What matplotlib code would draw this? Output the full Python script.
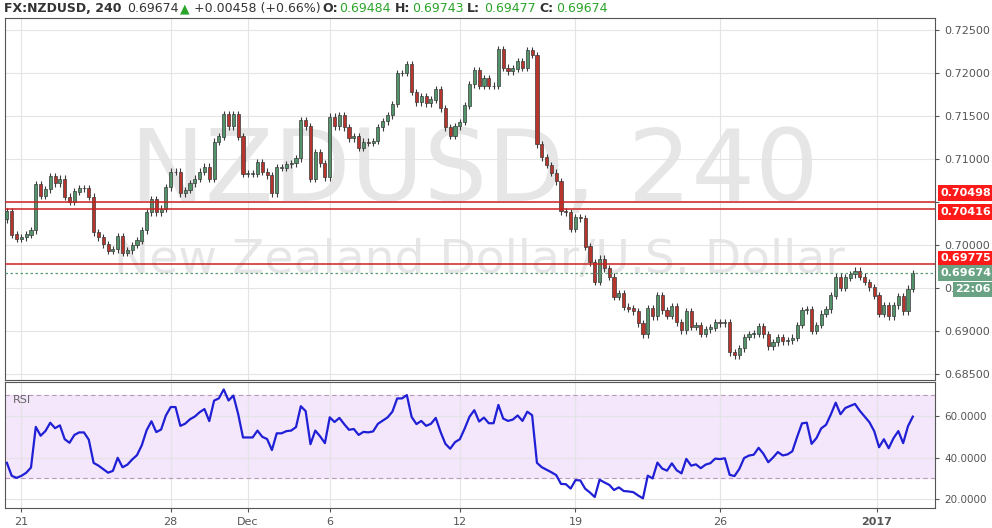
import numpy as np
import pandas as pd
import matplotlib
matplotlib.use("Agg")
import matplotlib.pyplot as plt

# 4H closes (first candle opens at 0.7030)
first_open = 0.7030
closes = [
    0.7039, 0.7012, 0.7007, 0.7009, 0.7012, 0.7017, 0.7071, 0.7057, 0.7065, 0.7080,
    0.7072, 0.7077, 0.7056, 0.7050, 0.7062, 0.7066, 0.7066, 0.7056, 0.7015, 0.7009,
    0.7001, 0.6993, 0.6995, 0.7010, 0.6991, 0.6994, 0.7000, 0.7005, 0.7017, 0.7038,
    0.7053, 0.7038, 0.7042, 0.7067, 0.7085, 0.7085, 0.7060, 0.7064, 0.7072, 0.7077,
    0.7085, 0.7091, 0.7077, 0.7120, 0.7126, 0.7152, 0.7138, 0.7152, 0.7126, 0.7083,
    0.7083, 0.7083, 0.7096, 0.7085, 0.7081, 0.7060, 0.7090, 0.7090, 0.7094, 0.7095,
    0.7101, 0.7145, 0.7138, 0.7077, 0.7108, 0.7095, 0.7079,
    0.7149, 0.7138, 0.7151, 0.7137, 0.7124, 0.7126, 0.7113, 0.7120, 0.7119, 0.7121,
    0.7137, 0.7144, 0.7151, 0.7164, 0.7200, 0.7200, 0.7210, 0.7178, 0.7166, 0.7173,
    0.7165, 0.7169, 0.7181, 0.7159, 0.7137, 0.7127, 0.7138, 0.7143, 0.7162, 0.7187,
    0.7203, 0.7185, 0.7194, 0.7185, 0.7185, 0.7228, 0.7206, 0.7202, 0.7205, 0.7214,
    0.7206, 0.7226, 0.7221, 0.7117, 0.7102, 0.7093, 0.7084, 0.7074, 0.7039,
    0.7038, 0.7019, 0.7032, 0.7031, 0.6998, 0.6980, 0.6957, 0.6984, 0.6973, 0.6963,
    0.6940, 0.6944, 0.6928, 0.6926, 0.6923, 0.6909, 0.6896, 0.6926, 0.6917, 0.6941,
    0.6924, 0.6918, 0.6929, 0.6910, 0.6901, 0.6923, 0.6905, 0.6907, 0.6897, 0.6902,
    0.6904, 0.6910, 0.6909, 0.6910, 0.6875, 0.6872, 0.6880, 0.6893, 0.6896, 0.6897,
    0.6905, 0.6896, 0.6882, 0.6887, 0.6893, 0.6888, 0.6889, 0.6892, 0.6907, 0.6924,
    0.6925, 0.6900, 0.6907, 0.6920, 0.6925, 0.6941, 0.6963, 0.6950, 0.6962, 0.6966,
    0.6970, 0.6963, 0.6957, 0.6951, 0.6941, 0.6920, 0.6930, 0.6917, 0.6930, 0.6940,
    0.6923, 0.6949, 0.6967,
]
wick = 0.0004

# RSI state carried in from before the visible window
seed_avg_gain = 0.00035
seed_avg_loss = 0.00070

date_pos = [3, 34, 50, 67, 94, 118, 148, 180.5]
date_labels = ["21", "28", "Dec", "6", "12", "19", "26", "2017"]

levels = [0.70498, 0.70416, 0.69775]
level_label_offsets = [0.0011, -0.0003, 0.0007]
last_price = 0.69674

closes = np.array(closes)
opens = np.concatenate([[first_open], closes[:-1]])
highs = np.maximum(opens, closes) + wick
lows = np.minimum(opens, closes) - wick
x = np.arange(len(closes))

# RSI 14 (Wilder smoothing)
g, l = seed_avg_gain, seed_avg_loss
rsi = []
for d in closes - opens:
    g = (g * 13 + max(d, 0)) / 14
    l = (l * 13 + max(-d, 0)) / 14
    rsi.append(100 - 100 / (1 + g / l))
rsi = np.array(rsi)

green = "#53936a"
red = "#b8352d"
edge = "#3a3a3a"

fig = plt.figure(figsize=(9.92, 5.28), dpi=100)
ax = fig.add_axes([0.005, 0.2803, 0.9375, 0.6856])
ax2 = fig.add_axes([0.005, 0.0379, 0.9375, 0.2386])

# watermark
ax.text(0.505, 0.57, "NZDUSD, 240", transform=ax.transAxes, ha="center", va="center",
        fontsize=72, color="#e6e6e6", zorder=0)
ax.text(0.51, 0.33, "New Zealand Dollar/U.S. Dollar", transform=ax.transAxes,
        ha="center", va="center", fontsize=34, color="#e6e6e6", zorder=0)

up = closes >= opens
cols = np.where(up, green, red)
ax.vlines(x, lows, highs, color=edge, lw=0.8, zorder=2)
ax.bar(x, np.abs(closes - opens) + 0.00003, bottom=np.minimum(opens, closes),
       width=0.65, color=cols, edgecolor=edge, lw=0.5, zorder=3)

for lv in levels:
    ax.axhline(lv, color="#cc2222", lw=1.1, zorder=4)
ax.axhline(last_price, color="#5a9a78", lw=0.9, ls=(0, (2, 2)), zorder=4)

ax.set_xlim(-0.4, 192.6)
ax.set_ylim(0.6843, 0.7264)
ax.yaxis.tick_right()
yt = np.arange(0.685, 0.72501, 0.005)
ax.set_yticks(yt)
# 0.70500 is hidden behind the level boxes
ax.set_yticklabels(["" if abs(v - 0.705) < 1e-6 else f"{v:.5f}" for v in yt])
ax.tick_params(axis="y", labelsize=8, colors="#555555", length=3)
ax.set_xticks(date_pos)
ax.tick_params(axis="x", length=0, labelbottom=False)
ax.grid(True, color="#e4e4e4", lw=0.8)
ax.set_axisbelow(True)
for s in ax.spines.values():
    s.set_color("#555555")

tr = ax.get_yaxis_transform()
box = dict(boxstyle="square,pad=0.25", ec="none")
for lv, off in zip(levels, level_label_offsets):
    ax.text(1.006, lv + off, f"{lv:.5f}", transform=tr, va="center", ha="left", fontsize=8,
            color="white", fontweight="bold", clip_on=False, zorder=10,
            bbox=dict(box, fc="#ff1a1a"))
ax.text(1.006, last_price, f"{last_price:.5f}", transform=tr, va="center", ha="left",
        fontsize=8, color="white", fontweight="bold", clip_on=False, zorder=10,
        bbox=dict(box, fc="#6aa383"))
ax.text(1.022, last_price - 0.0019, "22:06", transform=tr, va="center", ha="left",
        fontsize=8, color="white", fontweight="bold", clip_on=False, zorder=10,
        bbox=dict(box, fc="#6aa383"))

# RSI panel
ax2.axhspan(30, 70, color="#f4e6fb", zorder=0)
ax2.axhline(30, color="#b89bb8", lw=0.8, ls=(0, (4, 3)))
ax2.axhline(70, color="#b89bb8", lw=0.8, ls=(0, (4, 3)))
ax2.plot(x, rsi, color="#1f1fd6", lw=1.6, zorder=3)
ax2.set_xlim(-0.4, 192.6)
ax2.set_ylim(15.7, 76.4)
ax2.yaxis.tick_right()
ax2.set_yticks([20, 40, 60])
ax2.set_yticklabels(["20.0000", "40.0000", "60.0000"])
ax2.tick_params(axis="y", labelsize=7.5, colors="#555555", length=3)
ax2.set_xticks(date_pos)
ax2.set_xticklabels(date_labels)
for lbl in ax2.get_xticklabels():
    if lbl.get_text() == "2017":
        lbl.set_fontweight("bold")
ax2.tick_params(axis="x", labelsize=8, colors="#555555", length=3)
ax2.grid(True, color="#e4e4e4", lw=0.8)
ax2.set_axisbelow(True)
for s in ax2.spines.values():
    s.set_color("#555555")
ax2.text(0.008, 0.9, "RSI", transform=ax2.transAxes, fontsize=8, color="#666666", va="top")

# header
fig.text(0.004, 0.983, "FX:NZDUSD, 240", fontsize=9, fontweight="bold", color="#333333", va="center")
fig.text(0.128, 0.983, "0.69674", fontsize=9, color="#333333", va="center")
fig.text(0.181, 0.983, "\u25B2", fontsize=9, color="#2aa52a", va="center")
fig.text(0.196, 0.983, "+0.00458 (+0.66%)", fontsize=9, color="#333333", va="center")
xh = 0.325
for k, v in [("O:", "0.69484"), ("H:", "0.69743"), ("L:", "0.69477"), ("C:", "0.69674")]:
    fig.text(xh, 0.983, k, fontsize=9, fontweight="bold", color="#333333", va="center")
    fig.text(xh + 0.017, 0.983, v, fontsize=9, color="#2aa52a", va="center")
    xh += 0.073

fig.savefig("out.png", dpi=100)
